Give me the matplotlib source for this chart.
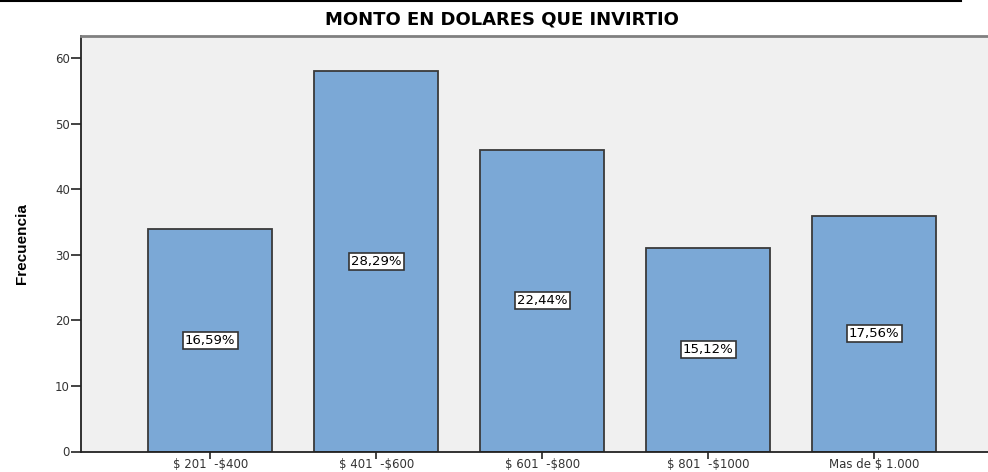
import matplotlib.pyplot as plt
from matplotlib.lines import Line2D

# Datos
categorias = [r'\$ 201  -\$400', r'\$ 401  -\$600', r'\$ 601  -\$800', r'\$ 801  -\$1000', r'Mas de \$ 1.000']
frecuencias = [34, 58, 46, 31, 36]
porcentajes = ['16,59%', '28,29%', '22,44%', '15,12%', '17,56%']

fig = plt.figure(figsize=(9.88, 4.72), dpi=100)
ax = fig.add_axes([81 / 988, 20.5 / 472, 907 / 988, 415.5 / 472])
ax.set_facecolor('#f0f0f0')

x = range(len(categorias))
bars = ax.bar(x, frecuencias, width=0.747, color='#7ba8d6', edgecolor='#3a3a3a', linewidth=1.3)

for b, p in zip(bars, porcentajes):
    ax.text(b.get_x() + b.get_width() / 2, b.get_height() / 2, p,
            ha='center', va='center', fontsize=9.5, color='black',
            bbox=dict(boxstyle='square,pad=0.15', facecolor='white', edgecolor='#333333', linewidth=1.2))

ax.set_xlim(-0.779, 4.685)
ax.set_ylim(0, 63.4)
ax.set_yticks(range(0, 61, 10))
ax.set_xticks(list(x))
ax.set_xticklabels(categorias)

ax.tick_params(axis='y', direction='out', length=7, width=1.2, labelsize=8.5, colors='#222222', pad=1)
ax.tick_params(axis='x', direction='out', length=5, width=1.2, labelsize=8.5, colors='#222222', pad=0)
for lab in ax.get_xticklabels() + ax.get_yticklabels():
    lab.set_color('#333333')

for s in ['left', 'bottom']:
    ax.spines[s].set_color('#222222')
    ax.spines[s].set_linewidth(1.3)
ax.spines['top'].set_color('#808080')
ax.spines['top'].set_linewidth(2)
ax.spines['right'].set_visible(False)

ax.set_ylabel('Frecuencia', fontsize=11, fontweight='bold',
              family=['Liberation Sans', 'DejaVu Sans'], labelpad=19)

fig.text(502 / 988, 1 - 19.5 / 472, 'MONTO EN DOLARES QUE INVIRTIO', ha='center', va='center',
         fontsize=13, fontweight='bold', family=['DejaVu Sans'])

fig.add_artist(Line2D([0, 961 / 988], [1 - 1 / 472, 1 - 1 / 472], color='black', linewidth=1.5,
                      transform=fig.transFigure))

fig.savefig('out.png', dpi=100)
